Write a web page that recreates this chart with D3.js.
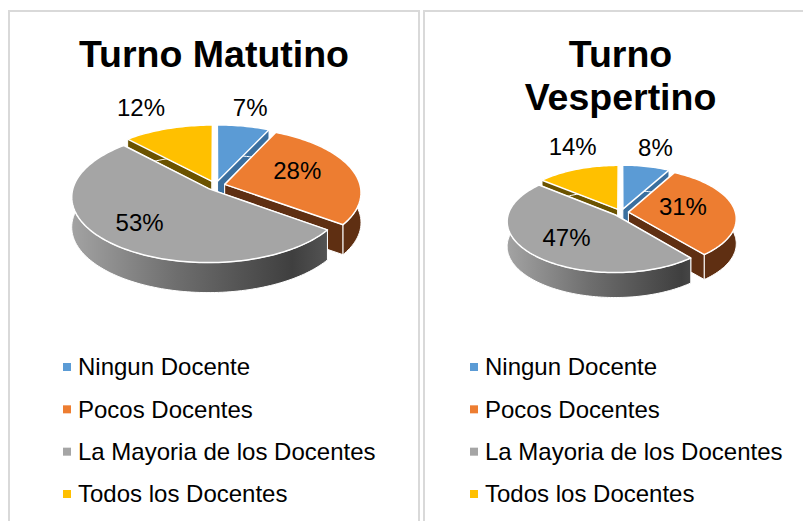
<!DOCTYPE html>
<html>
<head>
<meta charset="utf-8">
<script src="https://cdn.jsdelivr.net/npm/d3@7"></script>
<style>
    body { margin: 0; background: #fff; }
    text { font-family: "Liberation Sans", Arial, sans-serif; fill: #000; }
</style>
</head>
<body>
<div id="chart"></div>
<script>
// Data

const categories = ["Ningun Docente", "Pocos Docentes", "La Mayoria de los Docentes", "Todos los Docentes"];
const matutino = [7, 28, 53, 12];
const vespertino = [8, 31, 47, 14];
const colors = ["#5b9bd5", "#ed7d31", "#a5a5a5", "#ffc000"];
const wallColors = ["#3a6f9f", "#5f2f12", "#777777", "#6b5300"];

// Layout of the two panels

const panels = [
    {
        id: "mat", values: matutino, title: ["Turno Matutino"], titleX: 214, titleY: 67,
        frameLeft: 9, frameRight: 419,
        cx: 215.5, cy: 185.5, rx: 135.5, ry: 64, persp: 0.12, depth: 30, explode: 0.07,
        labelR: [1.2, 0.62, 0.62, 1.2],
        labelShift: [[2, -9], [-7, -4], [-10, 2], [-19, -12]],
        legendX: 63
    },
    {
        id: "ves", values: vespertino, title: ["Turno", "Vespertino"], titleX: 620.5, titleY: 67,
        frameLeft: 424, frameRight: 803,
        cx: 621, cy: 212.5, rx: 107, ry: 50, persp: 0.12, depth: 25, explode: 0.07,
        labelR: [1.3, 0.62, 0.62, 1.3],
        labelShift: [[3, -8], [-11, -3], [1, -1], [6, -12]],
        legendX: 470
    }
];

const legendY = d3.scalePoint().domain(categories).range([367, 494]);

const svg = d3.select("#chart").append("svg")
    .attr("width", 803)
    .attr("height", 521)
    .style("display", "block");

const defs = svg.append("defs");
const line = d3.line();

panels.forEach(drawPanel);

function drawPanel(p) {

    // frame runs off the bottom of the picture
    svg.append("path")
        .attr("fill", "none")
        .attr("stroke", "#d9d9d9")
        .attr("stroke-width", 2)
        .attr("d", p.frameRight >= 803
            ? `M${p.frameLeft},521V11H${p.frameRight}`
            : `M${p.frameLeft},521V11H${p.frameRight}V521`);

    p.title.forEach((t, i) => {
        svg.append("text")
            .attr("x", p.titleX)
            .attr("y", p.titleY + i * 43)
            .attr("text-anchor", "middle")
            .style("font-size", "37.5px")
            .style("font-weight", "bold")
            .text(t);
    });

    // project a point of the pie plane to the screen, nearer edge looks bigger
    const project = (u, v) => {
        const w = 1 - p.persp * v;
        return [p.cx + p.rx * u / w, p.cy + p.ry * v / w];
    };

    const gradId = "wall-" + p.id;
    const grad = defs.append("linearGradient")
        .attr("id", gradId)
        .attr("gradientUnits", "userSpaceOnUse")
        .attr("x1", p.cx - p.rx * 1.05)
        .attr("x2", p.cx + p.rx * 0.85)
        .attr("y1", 0)
        .attr("y2", 0);
    [[0, "#a2a2a2"], [0.4, "#6e6e6e"], [0.85, "#3f3f3f"], [1, "#555"]].forEach(s => {
        grad.append("stop").attr("offset", s[0]).attr("stop-color", s[1]);
    });

    const arcs = d3.pie().sort(null)(p.values);

    const slices = arcs.map((a, i) => {
        const mid = (a.startAngle + a.endAngle) / 2;
        const ox = p.explode * Math.sin(mid);
        const oy = -p.explode * Math.cos(mid);
        const at = (r, t) => project(ox + r * Math.sin(t), oy - r * Math.cos(t));
        const steps = Math.max(8, Math.round((a.endAngle - a.startAngle) * 40));
        const rim = d3.range(steps + 1)
            .map(k => at(1, a.startAngle + (a.endAngle - a.startAngle) * k / steps));
        return { i, a, mid, at, rim, apex: at(0, 0) };
    });

    const down = q => [q[0], q[1] + p.depth];

    // back to front; tops go on last so they cover the inner walls
    [3, 0, 1, 2].forEach(i => {
        const s = slices[i];
        const first = s.rim[0];
        const last = s.rim[s.rim.length - 1];
        const g = svg.append("g")
            .attr("stroke", "#fff")
            .attr("stroke-width", 1)
            .attr("stroke-linejoin", "round");

        [first, last].forEach(q => {
            g.append("path")
                .attr("fill", wallColors[i])
                .attr("d", line([s.apex, q, down(q), down(s.apex)]) + "Z");
        });

        g.append("path")
            .attr("fill", i === 2 ? `url(#${gradId})` : wallColors[i])
            .attr("d", line(s.rim.concat(s.rim.map(down).reverse())) + "Z");
    });

    slices.forEach(s => {
        svg.append("path")
            .attr("fill", colors[s.i])
            .attr("stroke", "#fff")
            .attr("stroke-width", 1.5)
            .attr("stroke-linejoin", "round")
            .attr("d", line([s.apex].concat(s.rim)) + "Z");
    });

    slices.forEach(s => {
        const pos = s.at(p.labelR[s.i], s.mid);
        svg.append("text")
            .attr("x", pos[0] + p.labelShift[s.i][0])
            .attr("y", pos[1] + p.labelShift[s.i][1])
            .attr("text-anchor", "middle")
            .attr("dy", "0.35em")
            .style("font-size", "24px")
            .text(s.a.data + "%");
    });

    // Legend

    const item = svg.append("g").selectAll("g")
        .data(categories)
        .join("g")
        .attr("transform", d => `translate(${p.legendX}, ${legendY(d)})`);

    item.append("rect")
        .attr("y", -4)
        .attr("width", 8)
        .attr("height", 8)
        .attr("fill", (d, i) => colors[i]);

    item.append("text")
        .attr("x", 15)
        .attr("dy", "0.35em")
        .style("font-size", "24px")
        .text(d => d);
}
</script>
</body>
</html>
